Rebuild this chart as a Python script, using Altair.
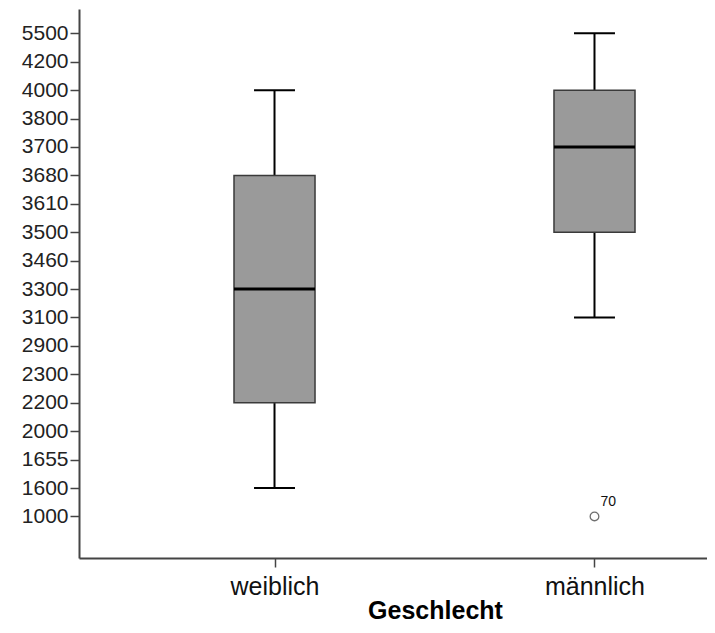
import json
import altair as alt
import pandas as pd

# ordinal value labels on the y axis (bottom to top)
y_labels = ["1000", "1600", "1655", "2000", "2200", "2300", "2900", "3100", "3300",
            "3460", "3500", "3610", "3680", "3700", "3800", "4000", "4200", "5500"]
groups = ["weiblich", "männlich"]
whisker_low = ["1600", "3100"]
q1 = ["2200", "3500"]
median = ["3300", "3700"]
q3 = ["3680", "4000"]
whisker_high = ["4000", "5500"]
outlier_group = ["männlich"]
outlier_value = ["1000"]
outlier_case = ["70"]

rank = {v: i for i, v in enumerate(y_labels)}
BOX_HALF = 0.1266
CAP_HALF = 0.064

box_df = pd.DataFrame({
    "group": groups,
    "pos": list(range(len(groups))),
    "lo": [rank[v] for v in whisker_low],
    "q1": [rank[v] for v in q1],
    "med": [rank[v] for v in median],
    "q3": [rank[v] for v in q3],
    "hi": [rank[v] for v in whisker_high],
})
box_df["x0"] = box_df["pos"] - BOX_HALF
box_df["x1"] = box_df["pos"] + BOX_HALF
box_df["c0"] = box_df["pos"] - CAP_HALF
box_df["c1"] = box_df["pos"] + CAP_HALF

out_df = pd.DataFrame({
    "pos": [groups.index(g) for g in outlier_group],
    "val": [rank[v] for v in outlier_value],
    "case": outlier_case,
})

FONT = "Liberation Sans"
x_scale = alt.Scale(domain=[-0.611, 1.3516], nice=False, zero=False)
y_scale = alt.Scale(domain=[-1.463, 17.855], nice=False, zero=False)

x_axis = alt.Axis(
    values=[0, 1],
    labelExpr=json.dumps(groups, ensure_ascii=False) + "[datum.value]",
    title="Geschlecht",
    titleFont=FONT, titleFontSize=25, titleFontWeight="bold", titleColor="#000000",
    titleX=356, titleY=60, titleBaseline="alphabetic", titleAlign="center",
    labelFont=FONT, labelFontSize=25, labelColor="#111111",
    labelBaseline="alphabetic", labelPadding=27,
    tickSize=9, tickColor="#444444", tickWidth=1.5,
    domainColor="#444444", domainWidth=2, grid=False,
)
y_axis = alt.Axis(
    values=list(range(len(y_labels))),
    labelExpr=json.dumps(y_labels) + "[datum.value]",
    title="",
    labelFont=FONT, labelFontSize=21, labelColor="#222222",
    labelPadding=2, tickSize=9, tickColor="#444444", tickWidth=1.5,
    domainColor="#444444", domainWidth=2, grid=False,
)


def X(field):
    return alt.X(field, type="quantitative", scale=x_scale, axis=x_axis)


def Y(field):
    return alt.Y(field, type="quantitative", scale=y_scale, axis=y_axis)


base = alt.Chart(box_df)

whisk_up = base.mark_rule(color="#000000", strokeWidth=2).encode(
    x=X("pos"), y=Y("q3"), y2="hi:Q",
)
whisk_dn = base.mark_rule(color="#000000", strokeWidth=2).encode(
    x=X("pos"), y=Y("lo"), y2="q1:Q",
)
cap_hi = base.mark_rule(color="#000000", strokeWidth=2).encode(
    x=X("c0"), x2="c1:Q", y=Y("hi"),
)
cap_lo = base.mark_rule(color="#000000", strokeWidth=2).encode(
    x=X("c0"), x2="c1:Q", y=Y("lo"),
)
boxes = base.mark_rect(fill="#9a9a9a", stroke="#3a3a3a", strokeWidth=1.5).encode(
    x=X("x0"), x2="x1:Q", y=Y("q1"), y2="q3:Q",
)
medians = base.mark_rule(color="#000000", strokeWidth=3).encode(
    x=X("x0"), x2="x1:Q", y=Y("med"),
)

out_base = alt.Chart(out_df)
outliers = out_base.mark_point(shape="circle", filled=False, color="#333333",
                               size=75, strokeWidth=1.3).encode(
    x=X("pos"), y=Y("val"),
)
out_labels = out_base.mark_text(font=FONT, fontSize=14, color="#111111",
                                align="left", baseline="alphabetic", dx=6, dy=-10).encode(
    x=X("pos"), y=Y("val"), text="case:N",
)

chart = alt.layer(
    whisk_up, whisk_dn, cap_hi, cap_lo, boxes, medians, outliers, out_labels
).properties(
    width=628, height=549,
    autosize=alt.AutoSizeParams(type="none"),
    padding={"left": 71, "top": 1, "right": 0, "bottom": 66},
    background="#ffffff",
).configure_view(strokeWidth=0)

chart.save("out.html", embed_options={"renderer": "svg", "actions": False})
